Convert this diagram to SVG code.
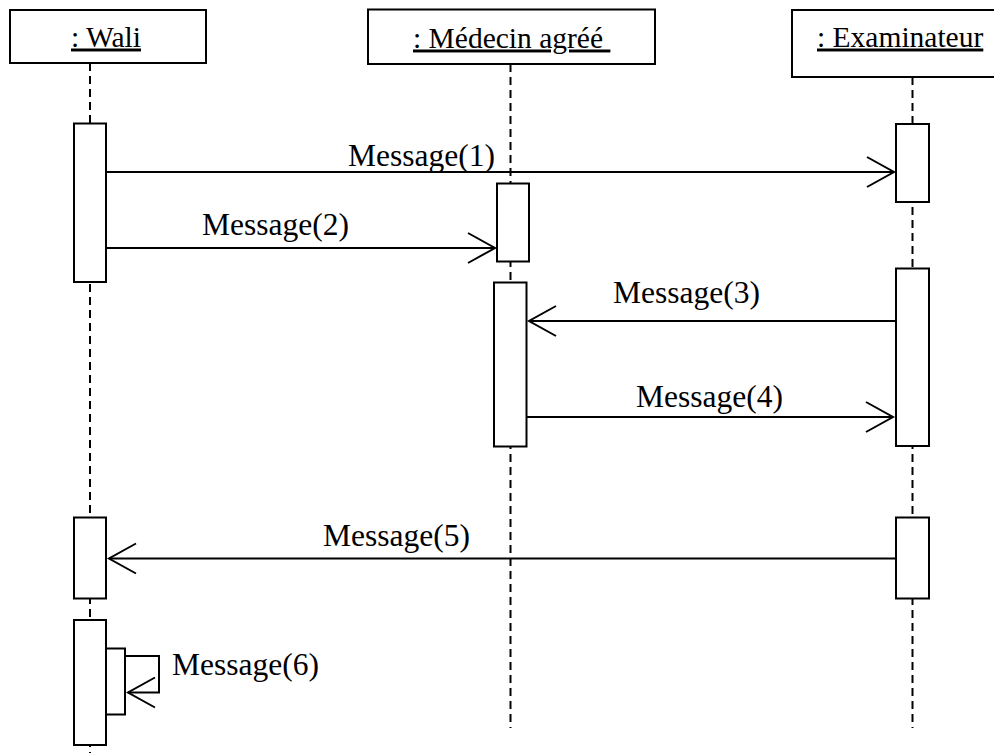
<svg xmlns="http://www.w3.org/2000/svg" width="994" height="753" viewBox="0 0 994 753">
  <defs>
    <style>
      .box { fill: #fff; stroke: #000; stroke-width: 2; }
      .act { fill: #fff; stroke: #000; stroke-width: 2; }
      .life { stroke: #000; stroke-width: 2; stroke-dasharray: 8 5; fill: none; }
      .msg { stroke: #000; stroke-width: 2; fill: none; marker-end: url(#open); }
      .title { font-family: "Liberation Serif", "Times New Roman", serif; font-size: 29.5px; fill: #000; text-decoration: underline; }
      .label { font-family: "Liberation Serif", "Times New Roman", serif; font-size: 31.5px; fill: #000; }
    </style>
    <marker id="open" markerUnits="userSpaceOnUse" viewBox="-30 -17 32 34" refX="0" refY="0" markerWidth="32" markerHeight="34" orient="auto" overflow="visible">
      <path d="M -27 -15 L 0 0 L -27 15" fill="none" stroke="#000" stroke-width="2"/>
    </marker>
  </defs>

  <rect width="994" height="753" fill="#fff"/>

  <!-- lifelines -->
  <g id="lifelines">
    <line class="life" x1="90" y1="63" x2="90" y2="753"/>
    <line class="life" x1="510.5" y1="64" x2="510.5" y2="728"/>
    <line class="life" x1="912.5" y1="77" x2="912.5" y2="728"/>
  </g>

  <!-- participants -->
  <g id="wali">
    <rect class="box" x="10" y="10" width="196" height="53"/>
    <text class="title" x="71" y="46.5">: Wali</text>
    <rect class="act" x="74" y="123.5" width="32" height="158.5"/>
    <rect class="act" x="74" y="517.5" width="32" height="81"/>
    <rect class="act" x="74" y="620" width="32" height="125"/>
    <rect class="act" x="106" y="648.5" width="19" height="66"/>
  </g>

  <g id="medecin">
    <rect class="box" x="368" y="9.5" width="287" height="54.5"/>
    <text class="title" x="413" y="47.5">: Médecin agréé&#160;</text>
    <rect class="act" x="497" y="183.5" width="32" height="78"/>
    <rect class="act" x="494" y="282.5" width="32.5" height="164"/>
  </g>

  <g id="examinateur">
    <rect class="box" x="792" y="10" width="220" height="67"/>
    <text class="title" x="817" y="46.5">: Examinateur</text>
    <rect class="act" x="896" y="124" width="33" height="78"/>
    <rect class="act" x="896" y="268.5" width="33" height="177.5"/>
    <rect class="act" x="896" y="517.5" width="33" height="81"/>
  </g>

  <!-- messages -->
  <g id="connectors">
    <line class="msg" x1="106" y1="172" x2="894" y2="172"/>
    <line class="msg" x1="106" y1="248" x2="495" y2="248"/>
    <line class="msg" x1="896" y1="321" x2="529" y2="321"/>
    <line class="msg" x1="526.5" y1="417" x2="893" y2="417"/>
    <line class="msg" x1="896" y1="558.5" x2="109" y2="558.5"/>
    <polyline class="msg" points="126,656 159,656 159,692.5 128,692.5"/>
  </g>

  <g id="labels">
    <text class="label" x="348" y="166">Message(1)</text>
    <text class="label" x="202" y="235">Message(2)</text>
    <text class="label" x="613" y="303">Message(3)</text>
    <text class="label" x="636" y="406.5">Message(4)</text>
    <text class="label" x="323" y="546">Message(5)</text>
    <text class="label" x="172" y="675">Message(6)</text>
  </g>
</svg>
